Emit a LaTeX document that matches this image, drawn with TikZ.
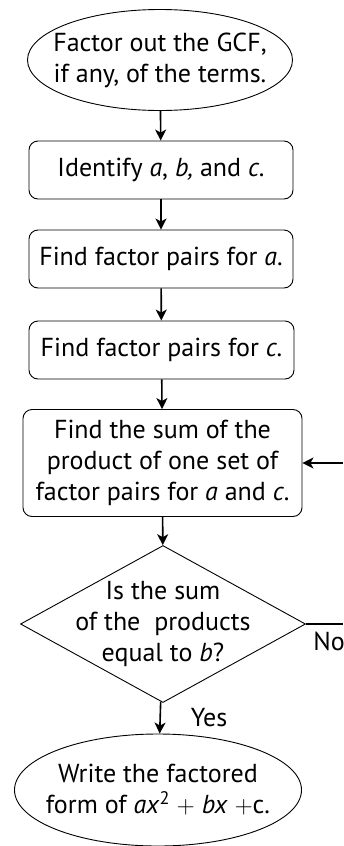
\documentclass[tikz,border=0pt]{standalone}
\usepackage{fontspec}
\setmainfont{PT Sans}
\usetikzlibrary{shapes.geometric,arrows.meta}

\tikzset{
  every node/.style={font=\fontsize{26}{31}\selectfont, align=center, inner sep=0pt},
  oval/.style={draw, ellipse, line width=0.9pt},
  stepbox/.style={draw, rectangle, rounded corners=9pt, line width=0.9pt},
  ask/.style={draw, diamond, line width=0.9pt},
  flow/.style={-{Stealth[length=11pt,width=11pt,inset=3pt]}, line width=1.6pt}
}

\begin{document}
\begin{tikzpicture}[x=1pt,y=-1pt]
        \useasboundingbox (0,0) rectangle (343,846);
        \node[oval, minimum width=265pt, minimum height=101pt, label=center:{Factor out the GCF,\\if any, of the terms.}] (gcf) at (160,60) {};
        \node[stepbox, minimum width=264pt, minimum height=58pt] (abc) at (161,170) {Identify \textit{a}, \textit{b,} and \textit{c}.};
        \node[stepbox, minimum width=264pt, minimum height=58pt] (pa) at (161,259) {Find factor pairs for \textit{a}.};
        \node[stepbox, minimum width=265pt, minimum height=58pt] (pc) at (161.5,350) {Find factor pairs for \textit{c}.};
        \node[stepbox, minimum width=279pt, minimum height=107pt] (sum) at (162.5,463) {Find the sum of the\\product of one set of\\factor pairs for \textit{a} and \textit{c}.};
        \node[ask, minimum width=285pt, minimum height=157pt, label=center:{Is the sum\\of the\ \ products\\equal to \textit{b}?}] (isb) at (163,624) {};
        \node[oval, minimum width=287pt, minimum height=112pt, label=center:{Write the factored\\form of \textit{ax}\textsuperscript{2} $+$ \textit{bx} $+$c.}] (form) at (158,790) {};
        \coordinate (noend) at (343,624);
        \coordinate (back) at (343,463);
        \node (no) at (329,641) {No};
        \node (yes) at (209,718) {Yes};
        \draw[flow] (gcf) -- (abc);
        \draw[flow] (abc) -- (pa);
        \draw[flow] (pa) -- (pc);
        \draw[flow] (pc) -- (sum);
        \draw[flow] (sum) -- (isb);
        \draw[flow] (isb) -- (form);
        \draw[line width=1.6pt] (isb.east) -- (noend);
        \draw[flow] (back) -- (sum.east);
    \end{tikzpicture}
\end{document}
